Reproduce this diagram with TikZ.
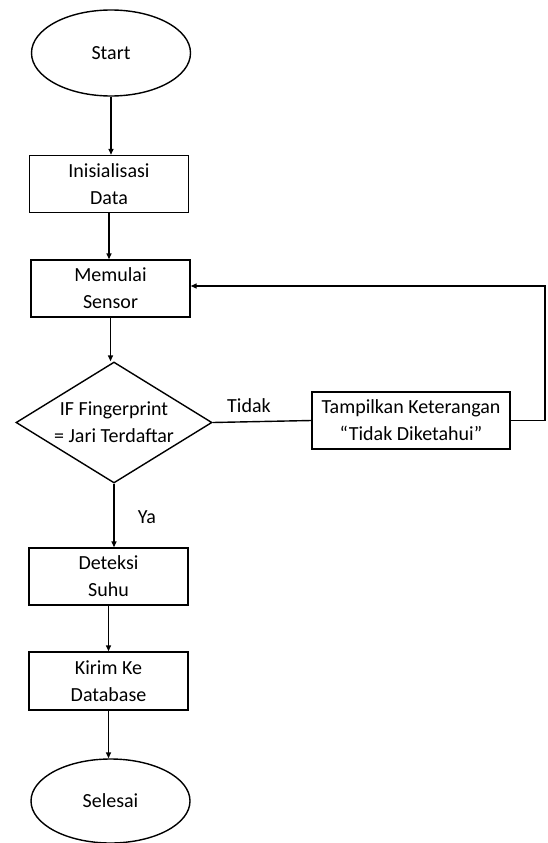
\documentclass[tikz,border=0pt]{standalone}
\usepackage{fontspec}
\setmainfont{Carlito}
\usetikzlibrary{shapes.geometric,arrows.meta}
\begin{document}
\begin{tikzpicture}[x=1pt,y=-1pt,
  every node/.style={font=\fontsize{20}{27}\selectfont, text=black},
  term/.style={draw, ellipse, line width=1.4pt, inner sep=0pt, minimum width=159pt, minimum height=86pt},
  proc/.style={draw, rectangle, line width=1.4pt, inner sep=0pt, align=center, minimum width=159pt, minimum height=57pt},
  decis/.style={draw, diamond, line width=1.4pt, inner sep=0pt, minimum width=196pt, minimum height=121pt},
  arr/.style={line width=1.4pt, -{Triangle[length=6pt,width=5pt]}},
  conn/.style={line width=1.4pt},
  lbl/.style={inner sep=0pt}]
\useasboundingbox (0,0) rectangle (547,843);
\node[term] (start) at (111,53) {Start};
\node[proc] (init) at (109,184) {Inisialisasi\\Data};
\node[proc] (sensor) at (110.5,288.5) {Memulai\\Sensor};
\node[decis, label={[align=center]center:IF Fingerprint\\= Jari Terdaftar}] (dec) at (114,422.5) {};
\node[proc, minimum width=198pt] (tamp) at (411,420.5) {Tampilkan Keterangan\\“Tidak Diketahui”};
\node[proc] (det) at (108.5,576.5) {Deteksi\\Suhu};
\node[proc, minimum height=58pt] (kirim) at (108.5,681) {Kirim Ke\\Database};
\node[term, minimum height=84pt] (end) at (110.5,801) {Selesai};
\coordinate (loopc) at (545,286);
\node[lbl] (tidak) at (249,406) {Tidak};
\node[lbl] (ya) at (147,517) {Ya};
\draw[arr] (start.south) -- (start.south |- init.north);
\draw[arr] (init.south) -- (init.south |- sensor.north);
\draw[arr] (sensor.south) -- (sensor.south |- dec.north);
\draw[conn] (dec.east) -- (tamp.west);
\draw[arr] (tamp.east) -| (loopc) -- (sensor.east |- loopc);
\draw[arr] (dec.south) -- (dec.south |- det.north);
\draw[arr] (det.south) -- (det.south |- kirim.north);
\draw[arr] (kirim.south) -- (kirim.south |- end.north);
\end{tikzpicture}
\end{document}
